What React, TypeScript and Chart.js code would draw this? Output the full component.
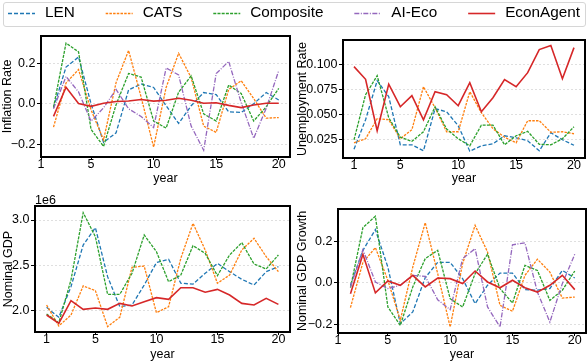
import React, { useEffect, useRef } from "react";
import { Chart, registerables } from "chart.js";

Chart.register(...registerables);

const FONT_FAMILY = '"Liberation Sans", Arial, Helvetica, sans-serif';

const SERIES_NAMES = ["LEN", "CATS", "Composite", "AI-Eco", "EconAgent"];
const SERIES_COLORS = ["#1f77b4", "#ff7f0e", "#2ca02c", "#9467bd", "#d62728"];
const SERIES_DASHES = [[4, 2], [2.5, 1.2], [3, 1.2], [5, 1.5, 1, 1.5], []];
const SERIES_WIDTHS = [1.3, 1.3, 1.3, 1.3, 1.6];

const YEARS = [1, 2, 3, 4, 5, 6, 7, 8, 9, 10, 11, 12, 13, 14, 15, 16, 17, 18, 19, 20];
const GROWTH_YEARS = [2, 3, 4, 5, 6, 7, 8, 9, 10, 11, 12, 13, 14, 15, 16, 17, 18, 19, 20];
const X_TICKS = [1, 5, 10, 15, 20];

// Inflation Rate (years 2..20)
const LEN_INFLATION = [-0.02, 0.18, 0.23, 0.0, -0.19, -0.143, 0.068, 0.097, 0.08, -0.01, -0.097, -0.01, 0.055, 0.045, -0.04, -0.043, 0.0, 0.055, 0.018];
const CATS_INFLATION = [-0.115, 0.102, 0.168, -0.03, -0.178, 0.104, 0.262, 0.033, -0.213, 0.08, 0.248, 0.128, -0.11, -0.141, 0.07, 0.113, 0.025, -0.071, -0.068];
const COMPOSITE_INFLATION = [-0.018, 0.298, 0.255, -0.126, -0.21, -0.005, 0.149, 0.131, -0.085, -0.12, 0.057, 0.137, -0.05, -0.085, 0.092, 0.05, -0.085, -0.015, 0.076];
const AIECO_INFLATION = [-0.025, 0.134, 0.058, -0.086, -0.02, 0.07, -0.025, -0.063, -0.117, 0.176, 0.141, -0.11, -0.229, 0.148, 0.208, 0.005, -0.17, -0.022, 0.163];
const ECONAGENT_INFLATION = [-0.062, 0.081, 0.001, -0.013, 0.002, 0.011, 0.013, 0.021, 0.013, 0.017, 0.027, 0.017, 0.002, 0.005, -0.008, -0.019, -0.006, 0.002, 0.002];

// Unemployment Rate (years 1..20)
const LEN_UNEMPLOYMENT = [0.0156, 0.045, 0.084, 0.068, 0.02, 0.02, 0.014, 0.056, 0.053, 0.039, 0.0136, 0.019, 0.021, 0.029, 0.027, 0.024, 0.014, 0.032, 0.025, 0.0195];
const CATS_UNEMPLOYMENT = [0.022, 0.026, 0.046, 0.045, 0.026, 0.035, 0.078, 0.057, 0.033, 0.033, 0.073, 0.052, 0.036, 0.0276, 0.022, 0.044, 0.044, 0.0325, 0.033, 0.031];
const COMPOSITE_UNEMPLOYMENT = [0.025, 0.07, 0.089, 0.047, 0.0276, 0.0234, 0.033, 0.058, 0.0357, 0.026, 0.019, 0.0396, 0.0396, 0.02, 0.029, 0.0334, 0.0205, 0.02, 0.026, 0.038];
const ECONAGENT_UNEMPLOYMENT = [0.098, 0.0854, 0.034, 0.0805, 0.058, 0.069, 0.045, 0.073, 0.07, 0.059, 0.082, 0.053, 0.067, 0.085, 0.078, 0.092, 0.115, 0.119, 0.086, 0.117];

// Nominal GDP (years 1..20)
const LEN_GDP = [2033000, 1923000, 2262000, 2723000, 2915000, 2373000, 2040000, 2059000, 2280000, 2528000, 2565000, 2300000, 2290000, 2410000, 2520000, 2428000, 2343000, 2280000, 2428000, 2483000];
const CATS_GDP = [2059000, 1827000, 1948000, 2270000, 2218000, 1820000, 1923000, 2476000, 2490000, 1974000, 2040000, 2576000, 2963000, 2668000, 2300000, 2390000, 2668000, 2797000, 2594000, 2428000];
const COMPOSITE_GDP = [1960000, 1863000, 2336000, 3081000, 2815000, 2177000, 2177000, 2410000, 2834000, 2650000, 2317000, 2390000, 2716000, 2631000, 2384000, 2613000, 2749000, 2513000, 2458000, 2613000];
const ECONAGENT_GDP = [1948000, 1856000, 2107000, 2011000, 2026000, 2011000, 2077000, 2048000, 2096000, 2140000, 2122000, 2250000, 2250000, 2200000, 2232000, 2170000, 2077000, 2059000, 2133000, 2066000];

// Nominal GDP Growth (years 2..20)
const LEN_GROWTH = [-0.011, 0.158, 0.258, 0.077, -0.197, -0.14, 0.026, 0.1, 0.1, 0.021, -0.1, -0.011, 0.048, 0.048, -0.032, -0.035, -0.027, 0.061, 0.024];
const CATS_GROWTH = [-0.119, 0.1, 0.171, 0.013, -0.18, 0.077, 0.292, 0.045, -0.213, 0.094, 0.279, 0.15, -0.108, -0.137, 0.037, 0.115, 0.053, -0.073, -0.068];
const COMPOSITE_GROWTH = [-0.023, 0.268, 0.323, -0.116, -0.205, -0.019, 0.118, 0.158, -0.076, -0.116, 0.045, 0.139, -0.027, -0.097, 0.085, 0.061, -0.084, -0.035, 0.058];
const AIECO_GROWTH = [-0.019, 0.161, 0.005, -0.027, -0.011, 0.037, 0.032, -0.081, -0.129, 0.118, 0.166, -0.116, -0.213, 0.185, 0.194, -0.044, -0.189, -0.003, 0.139];
const ECONAGENT_GROWTH = [-0.052, 0.139, -0.048, 0.01, -0.011, 0.037, -0.019, 0.024, 0.021, -0.003, 0.058, 0.005, -0.023, 0.013, -0.023, -0.044, -0.011, 0.037, -0.032];

const INFLATION_Y_TICKS = [-0.2, 0, 0.2];
const UNEMPLOYMENT_Y_TICKS = [0.025, 0.05, 0.075, 0.1];
const GDP_Y_TICKS = [2000000, 2500000, 3000000];
const GROWTH_Y_TICKS = [-0.2, 0, 0.2];

const TICK_FONT = { family: FONT_FAMILY, size: 12.5 };

const minusFix = (s: string) => s.replace("-", "\u2212");

type SeriesRef = { idx: number; values: number[] };

type PanelSpec = {
  key: string;
  canvas: { left: number; top: number; width: number; height: number };
  padTop: number;
  padRight: number;
  yW: number;
  xH: number;
  xMin: number;
  xMax: number;
  yMin: number;
  yMax: number;
  yTicks: number[];
  yFmt: (v: number) => string;
  yLabel: string;
  xs: number[];
  series: SeriesRef[];
  offsetText?: string;
};

const PANELS: PanelSpec[] = [
  {
    key: "inflation",
    canvas: { left: 0, top: 27, width: 293, height: 159 },
    padTop: 5, padRight: 3, yW: 41, xH: 29,
    xMin: 1, xMax: 20.9, yMin: -0.262, yMax: 0.333,
    yTicks: INFLATION_Y_TICKS,
    yFmt: (v) => minusFix(v.toFixed(1)),
    yLabel: "Inflation Rate",
    xs: GROWTH_YEARS,
    series: [
      { idx: 0, values: LEN_INFLATION },
      { idx: 1, values: CATS_INFLATION },
      { idx: 2, values: COMPOSITE_INFLATION },
      { idx: 3, values: AIECO_INFLATION },
      { idx: 4, values: ECONAGENT_INFLATION },
    ],
  },
  {
    key: "unemployment",
    canvas: { left: 295, top: 31, width: 293, height: 155 },
    padTop: 6, padRight: 3, yW: 48, xH: 28,
    xMin: 0.05, xMax: 20.95, yMin: 0.0068, yMax: 0.1246,
    yTicks: UNEMPLOYMENT_Y_TICKS,
    yFmt: (v) => v.toFixed(3),
    yLabel: "Unemployment Rate",
    xs: YEARS,
    series: [
      { idx: 0, values: LEN_UNEMPLOYMENT },
      { idx: 1, values: CATS_UNEMPLOYMENT },
      { idx: 2, values: COMPOSITE_UNEMPLOYMENT },
      { idx: 4, values: ECONAGENT_UNEMPLOYMENT },
    ],
  },
  {
    key: "gdp",
    canvas: { left: 1, top: 188, width: 292, height: 174 },
    padTop: 18, padRight: 3, yW: 34, xH: 30,
    xMin: 0.05, xMax: 20.95, yMin: 1760000, yMax: 3155000,
    yTicks: GDP_Y_TICKS,
    yFmt: (v) => (v / 1e6).toFixed(1),
    yLabel: "Nominal GDP",
    xs: YEARS,
    series: [
      { idx: 0, values: LEN_GDP },
      { idx: 1, values: CATS_GDP },
      { idx: 2, values: COMPOSITE_GDP },
      { idx: 4, values: ECONAGENT_GDP },
    ],
    offsetText: "1e6",
  },
  {
    key: "growth",
    canvas: { left: 295, top: 190, width: 293, height: 172 },
    padTop: 19, padRight: 2, yW: 43, xH: 29,
    xMin: 1, xMax: 20.9, yMin: -0.242, yMax: 0.358,
    yTicks: GROWTH_Y_TICKS,
    yFmt: (v) => minusFix(v.toFixed(1)),
    yLabel: "Nominal GDP Growth",
    xs: GROWTH_YEARS,
    series: [
      { idx: 0, values: LEN_GROWTH },
      { idx: 1, values: CATS_GROWTH },
      { idx: 2, values: COMPOSITE_GROWTH },
      { idx: 3, values: AIECO_GROWTH },
      { idx: 4, values: ECONAGENT_GROWTH },
    ],
  },
];

function Panel({ spec }: { spec: PanelSpec }) {
  const ref = useRef<HTMLCanvasElement | null>(null);
  useEffect(() => {
    if (!ref.current) return;
    const framePlugin = {
      id: "frame" + spec.key,
      afterDraw(chart: any) {
        const { ctx, chartArea: a } = chart;
        ctx.save();
        ctx.strokeStyle = "#000";
        ctx.lineWidth = 2;
        ctx.strokeRect(a.left, a.top, a.right - a.left, a.bottom - a.top);
        if (spec.offsetText) {
          ctx.fillStyle = "#000";
          ctx.font = `12.5px ${FONT_FAMILY}`;
          ctx.textAlign = "left";
          ctx.textBaseline = "alphabetic";
          ctx.fillText(spec.offsetText, a.left, a.top - 2);
        }
        ctx.restore();
      },
    };
    const chart = new Chart(ref.current, {
      type: "line",
      data: {
        datasets: spec.series.map((s) => ({
          label: SERIES_NAMES[s.idx],
          data: spec.xs.map((x, i) => ({ x, y: s.values[i] })),
          borderColor: SERIES_COLORS[s.idx],
          backgroundColor: SERIES_COLORS[s.idx],
          borderWidth: SERIES_WIDTHS[s.idx],
          borderDash: SERIES_DASHES[s.idx],
          pointRadius: 0,
          tension: 0,
          fill: false,
          order: 4 - s.idx,
        })),
      },
      options: {
        responsive: false,
        animation: false,
        events: [],
        layout: { padding: { top: spec.padTop, right: spec.padRight, left: 0, bottom: 0 } },
        plugins: { legend: { display: false }, tooltip: { enabled: false } },
        scales: {
          x: {
            type: "linear",
            min: spec.xMin,
            max: spec.xMax,
            afterFit: (s: any) => { s.height = spec.xH; },
            afterBuildTicks: (s: any) => { s.ticks = X_TICKS.map((v) => ({ value: v })); },
            ticks: {
              autoSkip: false,
              maxRotation: 0,
              color: "#000",
              font: TICK_FONT,
              padding: -2.5,
              callback: (v: any) => String(v),
            },
            grid: { display: true, drawOnChartArea: false, drawTicks: true, tickLength: 3, tickColor: "#000", tickWidth: 1 },
            border: { display: false },
            title: { display: true, text: "year", color: "#000", font: TICK_FONT, padding: 0 },
          },
          y: {
            type: "linear",
            min: spec.yMin,
            max: spec.yMax,
            afterFit: (s: any) => { s.width = spec.yW; },
            afterBuildTicks: (s: any) => { s.ticks = spec.yTicks.map((v) => ({ value: v })); },
            ticks: {
              color: "#000",
              font: TICK_FONT,
              padding: 1.5,
              callback: (v: any) => spec.yFmt(Number(v)),
            },
            grid: {
              display: true,
              drawOnChartArea: true,
              drawTicks: true,
              tickLength: 4,
              color: "rgba(0,0,0,0.16)",
              lineWidth: 0.8,
              tickColor: "#000",
              tickWidth: 1,
              tickBorderDash: [],
            },
            border: { display: false, dash: [2, 2] },
            title: { display: true, text: spec.yLabel, color: "#000", font: TICK_FONT, padding: 0 },
          },
        },
      },
      plugins: [framePlugin],
    } as any);
    return () => chart.destroy();
  }, [spec]);
  const c = spec.canvas;
  return (
    <canvas
      ref={ref}
      width={c.width}
      height={c.height}
      style={{ position: "absolute", left: c.left, top: c.top, width: c.width, height: c.height }}
    />
  );
}

const LEGEND_FONT_SIZE = 15.3;

function Legend() {
  const ref = useRef<HTMLCanvasElement | null>(null);
  useEffect(() => {
    if (!ref.current) return;
    const legendPlugin = {
      id: "rowLegend",
      afterDraw(chart: any) {
        const ctx = chart.ctx;
        const items = chart.data.datasets;
        ctx.save();
        ctx.font = `${LEGEND_FONT_SIZE}px ${FONT_FAMILY}`;
        const sampleLen = 27;
        const textGap = 10;
        const startX = 8;
        const endX = 580;
        const textWidths = items.map((d: any) => ctx.measureText(d.label).width);
        const total = textWidths.reduce((a: number, b: number) => a + b, 0) + items.length * (sampleLen + textGap);
        const gap = (endX - startX - total) / (items.length - 1);
        let x = startX;
        const lineY = 13.5;
        items.forEach((d: any, i: number) => {
          ctx.beginPath();
          ctx.setLineDash(d.borderDash || []);
          ctx.strokeStyle = d.borderColor;
          ctx.lineWidth = d.borderWidth;
          ctx.moveTo(x, lineY);
          ctx.lineTo(x + sampleLen, lineY);
          ctx.stroke();
          ctx.setLineDash([]);
          ctx.fillStyle = "#000";
          ctx.textAlign = "left";
          ctx.textBaseline = "middle";
          ctx.fillText(d.label, x + sampleLen + textGap, 13.2);
          x += sampleLen + textGap + textWidths[i] + gap;
        });
        ctx.restore();
      },
    };
    const chart = new Chart(ref.current, {
      type: "line",
      data: {
        datasets: SERIES_NAMES.map((name, i) => ({
          label: name,
          data: [],
          borderColor: SERIES_COLORS[i],
          borderWidth: SERIES_WIDTHS[i],
          borderDash: SERIES_DASHES[i],
        })),
      },
      options: {
        responsive: false,
        animation: false,
        events: [],
        layout: { padding: 0 },
        scales: { x: { display: false }, y: { display: false } },
        plugins: { tooltip: { enabled: false }, legend: { display: false } },
      },
      plugins: [legendPlugin],
    } as any);
    return () => chart.destroy();
  }, []);
  return (
    <div style={{ position: "absolute", left: 0, top: 0, width: 588, height: 30 }}>
      <div
        style={{
          position: "absolute",
          left: 3,
          top: 2,
          width: 583,
          height: 25,
          border: "1px solid #d6d6d6",
          borderRadius: 3,
          boxSizing: "border-box",
        }}
      />
      <canvas
        ref={ref}
        width={588}
        height={30}
        style={{ position: "absolute", left: 0, top: 0, width: 588, height: 30 }}
      />
    </div>
  );
}

export default function App() {
  return (
    <div style={{ position: "absolute", left: 0, top: 0, width: 588, height: 362, background: "#fff", overflow: "hidden" }}>
      <Legend />
      {PANELS.map((p) => (
        <Panel key={p.key} spec={p} />
      ))}
    </div>
  );
}
